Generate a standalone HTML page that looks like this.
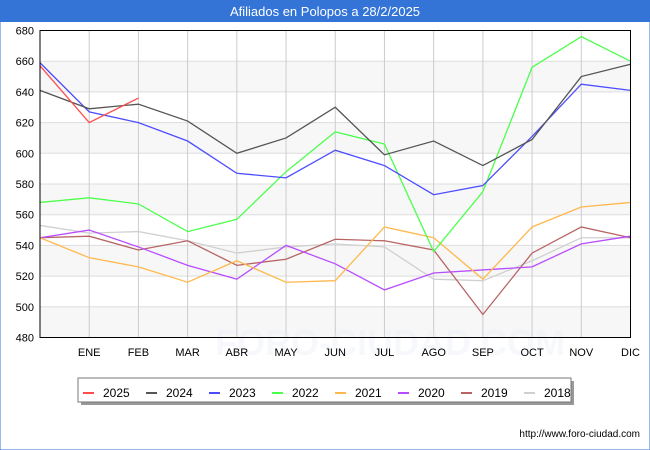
<!DOCTYPE html>
<html><head><meta charset="utf-8"><style>
body{margin:0;background:#fff;}
svg{display:block;font-family:"Liberation Sans","DejaVu Sans",sans-serif;}
</style></head><body>
<svg id="chart" width="650" height="450" viewBox="0 0 650 450">
<rect x="0" y="0" width="650" height="450" fill="#fff" stroke="#3374d6" stroke-width="1"/>
<rect x="0" y="0" width="650" height="22" fill="#3374d6"/>
<text x="325" y="16" text-anchor="middle" fill="#fff" font-size="13">Afiliados en Polopos a 28/2/2025</text>
<g id="bands"></g><g id="grid"></g>
<text x="390" y="355" text-anchor="middle" font-size="36" fill="#e8ecf6" font-weight="bold" opacity="0.35">FORO-CIUDAD.COM</text>
<g id="series"></g>
<rect x="40" y="30.5" width="590.5" height="307" fill="none" stroke="#000" stroke-width="1"/>
<g id="axes"></g>
<rect x="81" y="381" width="493" height="24" fill="#999"/>
<rect x="78" y="378" width="493" height="24" fill="#fff" stroke="#777"/>
<g id="legend"></g>
<text x="640" y="437" text-anchor="end" font-size="10" fill="#000">http://www.foro-ciudad.com</text>
</svg>
<script>
const months=["","ENE","FEB","MAR","ABR","MAY","JUN","JUL","AGO","SEP","OCT","NOV","DIC"];
const yTicks=[480,500,520,540,560,580,600,620,640,660,680];
const seriesNames=["2025","2024","2023","2022","2021","2020","2019","2018"];
const seriesColors=["#ff4d4d","#555555","#4d4dff","#4dff4d","#ffb84d","#b84dff","#b86464","#d0d0d0"];
const v2025=[657,620,636];
const v2024=[641,629,632,621,600,610,630,599,608,592,609,650,658];
const v2023=[659,627,620,608,587,584,602,592,573,579,611,645,641];
const v2022=[568,571,567,549,557,588,614,606,536,575,656,676,660];
const v2021=[545,532,526,516,530,516,517,552,545,518,552,565,568];
const v2020=[545,550,539,527,518,540,528,511,522,524,526,541,546];
const v2019=[545,546,537,543,527,531,544,543,537,495,535,552,545];
const v2018=[553,548,549,543,535,539,541,539,518,517,530,545,545];
const allSeries=[v2025,v2024,v2023,v2022,v2021,v2020,v2019,v2018];
const NS="http://www.w3.org/2000/svg";
const L=40,R=630.5,T=30.5,B=337.5;
const x=i=>L+i*(R-L)/12;
const y=v=>B-(v-480)/(680-480)*(B-T);
function mk(tag,attrs,parent){const e=document.createElementNS(NS,tag);for(const k in attrs)e.setAttribute(k,attrs[k]);parent.appendChild(e);return e;}
const bands=document.getElementById('bands'),grid=document.getElementById('grid'),axes=document.getElementById('axes'),ser=document.getElementById('series'),leg=document.getElementById('legend');
for(let i=0;i<yTicks.length-1;i++){
  if(i%2===0){const r=mk('rect',{x:L,y:y(yTicks[i+1]),width:R-L,height:y(yTicks[i])-y(yTicks[i+1]),fill:'#f7f7f7'},bands);
  
  }
}
yTicks.forEach(t=>{
  const g=mk('line',{x1:L,x2:R,y1:y(t),y2:y(t),stroke:'#ddd','stroke-width':1},grid);
  
  
  const tx=mk('text',{x:L-6,y:y(t)+4,'text-anchor':'end','font-size':11,fill:'#000'},axes);
  tx.textContent=t;
  
  
});
months.forEach((m,i)=>{
  if(i>0){const g=mk('line',{x1:x(i),x2:x(i),y1:T,y2:B,stroke:'#ccc','stroke-width':1},grid);
  
  }
  const tx=mk('text',{x:x(i),y:356,'text-anchor':'middle','font-size':11,fill:'#000'},axes);
  tx.textContent=m;
  
  
});
for(let s=allSeries.length-1;s>=0;s--){
  const pts=allSeries[s].map((v,i)=>x(i)+','+y(v)).join(' ');
  const p=mk('polyline',{points:pts,fill:'none',stroke:seriesColors[s],'stroke-width':1.3},ser);
  
  
}
seriesNames.forEach((n,i)=>{
  const bx=83+i*63;
  const sw=mk('line',{x1:bx,x2:bx+11,y1:393,y2:393,stroke:seriesColors[i],'stroke-width':2},leg);
  
  
  const t=mk('text',{x:bx+20,y:397,'font-size':12,fill:'#000'},leg);
  t.textContent=n;
  
  
});
</script>
</body></html>
